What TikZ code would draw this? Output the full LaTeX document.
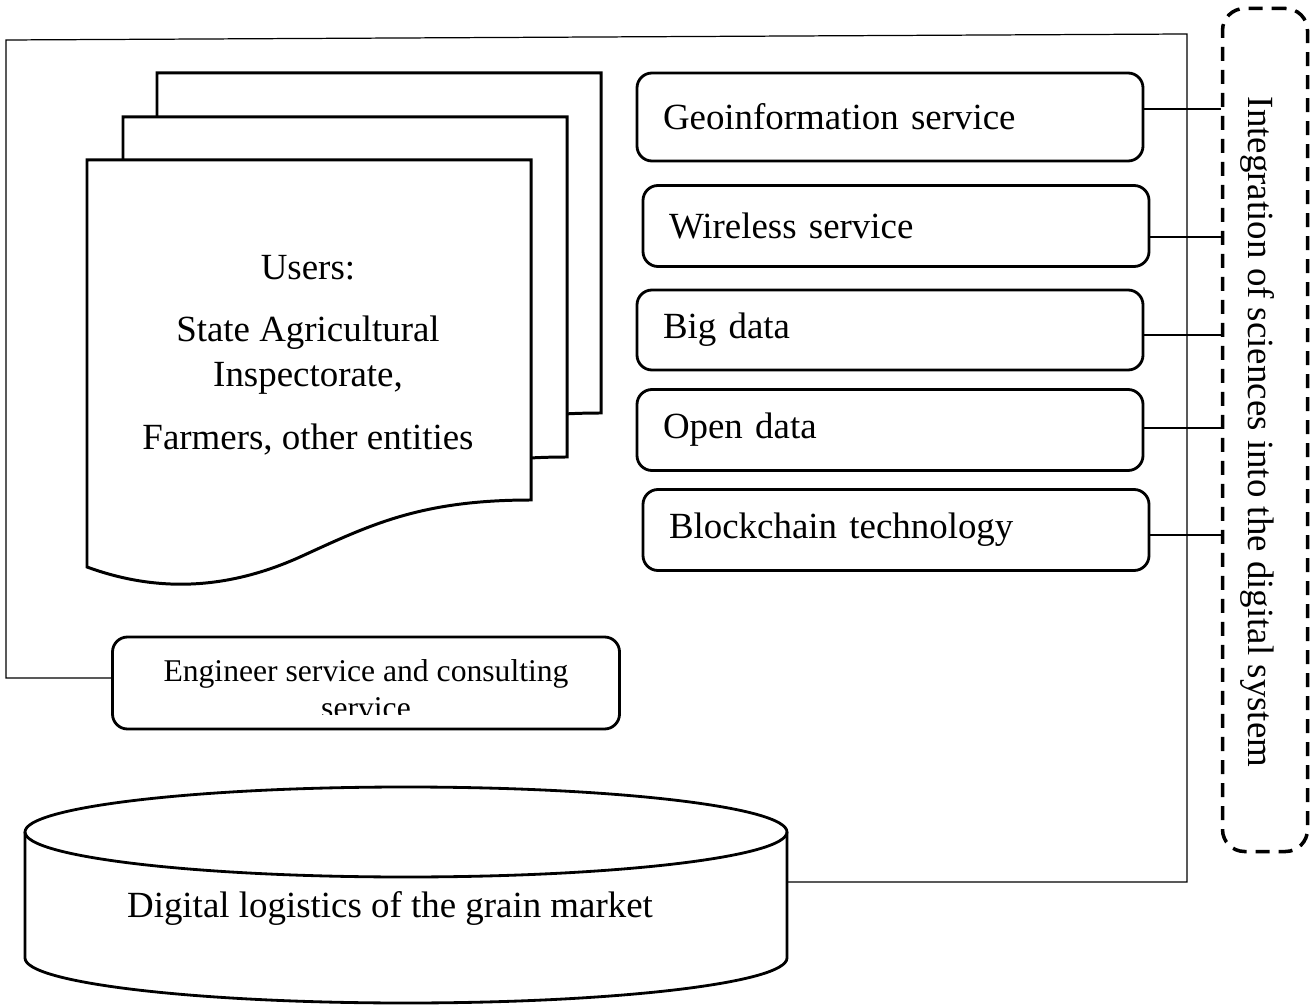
\documentclass[tikz,border=0pt]{standalone}
\usepackage{fontspec}
\setmainfont{Liberation Serif}
\usepackage{tikz}

\begin{document}
\begin{tikzpicture}[x=0.2mm, y=-0.2mm, every node/.style={font=\fontsize{21}{25.6}\selectfont},
	box/.style={draw, line width=1.6pt, rounded corners=3mm, minimum width=101.2mm, text width=90.8mm, inner xsep=5.2mm, align=left},
	page/.style={draw, fill=white, line width=1.7pt},
	outline/.style={draw, line width=1.6pt},
	link/.style={line width=0.7pt}]
	\useasboundingbox (0,0) rectangle (1311,1005);
	% pages of the users
	\foreach \dx/\dy in {70/-87, 36/-43, 0/0}
		\draw[page, shift={(\dx,\dy)}] (87,160) -- (531,160) -- (531,500) .. controls (420,500) and (370,525) .. (300,557) .. controls (220,593) and (150,590) .. (87,567) -- cycle;
	\node[align=center] (users) at (308,355) {Users:\\[10pt] State Agricultural\\ Inspectorate,\\[10pt] Farmers, other entities};
	% services
	\node[box, minimum height=17.6mm] (geo) at (890,117) {Geoinformation service};
	\node[box, minimum height=16.2mm] (wireless) at (896,226) {Wireless service};
	\node[box, minimum height=16mm] (bigdata) at (890,330) {Big data};
	\node[box, minimum height=16.2mm] (opendata) at (890,430) {Open data};
	\node[box, minimum height=16.2mm] (chain) at (896,530) {Blockchain technology};
	\node[draw, line width=2pt, dash pattern=on 2.8mm off 1.8mm, rounded corners=4.4mm, minimum width=17mm, minimum height=168.6mm] (integ) at (1265,430) {};
	\node[rotate=-90] (integtext) at (1257,432) {Integration of sciences into the digital system};
	\foreach \n/\s in {geo/1.6mm, wireless/-2.2mm, bigdata/-1mm, opendata/0.4mm, chain/-1mm}
		\draw[link] ([yshift=\s]\n.east) -- ([yshift=\s]\n.east -| integ.west);
	% engineer service
	\node[box, minimum width=101.4mm, minimum height=18.4mm] (eng) at (366,683) {};
	\begin{scope}
		\clip (113,637) rectangle (620,714);
		\node[font=\fontsize{18}{21}\selectfont, align=center, inner sep=0pt] (engtext) at (366,689) {Engineer service and consulting\\ service};
	\end{scope}
	% database
	\draw[outline] (25,832) -- (25,958) arc[start angle=180, end angle=0, x radius=381, y radius=45] -- (787,832);
	\draw[outline] (406,832) ellipse [x radius=381, y radius=45];
	\node (db) at (390,908) {Digital logistics of the grain market};
	\coordinate (dbr) at (787,882);
	\coordinate (tl) at (6,40);
	\coordinate (tr) at (1187,34);
	\draw[link] ([yshift=1mm]eng.west) -| (tl) -- (tr) |- (dbr);
\end{tikzpicture}
\end{document}
